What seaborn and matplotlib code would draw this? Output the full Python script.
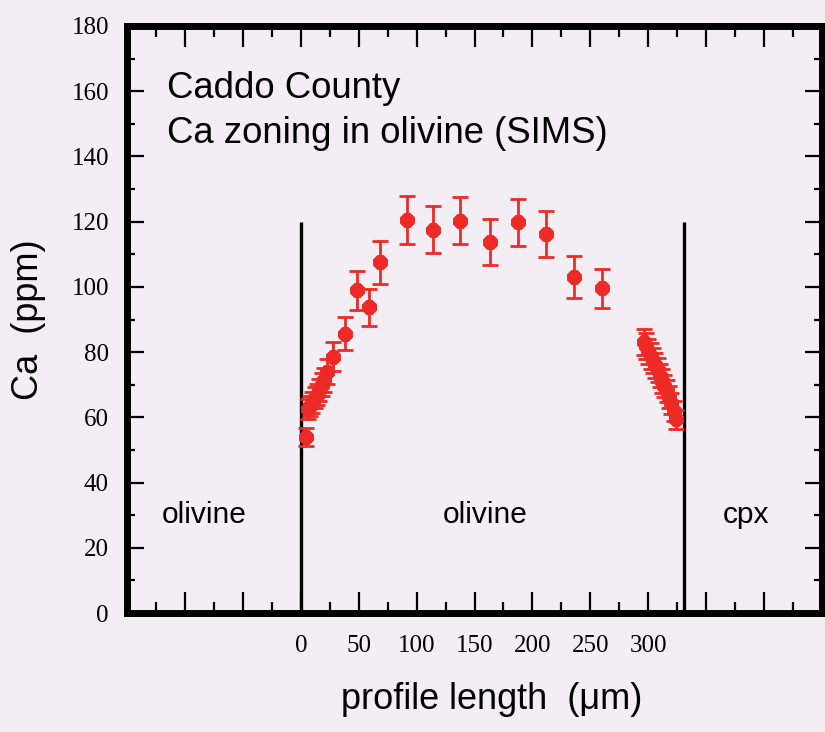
import numpy as np
import pandas as pd
import matplotlib
matplotlib.use("Agg")
import matplotlib.pyplot as plt
from matplotlib.ticker import MultipleLocator
import seaborn as sns

# Ca concentration profile across the olivine grain (SIMS spots)
profile_um = [4.8, 6, 8, 10, 12, 14, 16, 18, 20, 23, 27.5, 37.9, 48.6, 58.6, 68.1,
              91.8, 114.2, 137.8, 163.1, 187.3, 211.8, 236.3, 260.2,
              296, 298, 300, 302, 304, 306, 308, 310, 312, 314, 316, 318, 320, 322, 324]
ca_ppm = [53.9, 62.5, 63.5, 64.5, 66.0, 67.0, 68.5, 70.0, 71.5, 74.0, 78.6, 85.6, 98.9, 93.8, 107.5,
          120.6, 117.5, 120.3, 113.7, 119.8, 116.3, 103.0, 99.6,
          83.0, 81.8, 80.2, 78.8, 77.4, 75.9, 74.4, 72.8, 71.2, 69.6, 68.0, 66.2, 64.3, 62.0, 59.4]
ca_err = [2.8, 3.0, 3.0, 3.2, 3.2, 3.3, 3.4, 3.5, 3.6, 3.8, 4.5, 5.1, 6.0, 5.7, 6.6,
          7.3, 7.2, 7.3, 7.0, 7.2, 7.1, 6.4, 6.0,
          4.0, 4.0, 3.9, 3.9, 3.8, 3.8, 3.7, 3.6, 3.6, 3.5, 3.4, 3.3, 3.2, 3.1, 3.0]

# Grain boundaries (μm) and their drawn height (ppm)
boundary_um = [0, 331]
boundary_top = 120

# Phase names and where they sit along the profile
phase_names = ["olivine", "olivine", "cpx"]
phase_x = [-83, 159, 384]

x_tick_values = list(range(-150, 451, 50))
x_tick_labels = ["", "", "", "0", "50", "100", "150", "200", "250", "300", "", "", ""]
y_tick_values = list(range(0, 181, 20))
y_tick_labels = [str(v) for v in y_tick_values]

df = pd.DataFrame({"profile": profile_um, "ca": ca_ppm, "err": ca_err})

sns.set_theme(style="ticks")
plt.rcParams["font.family"] = ["Liberation Sans", "DejaVu Sans"]

bg = "#f3eef4"
red = "#ee2a27"

fig, ax = plt.subplots(figsize=(8.25, 7.32), dpi=100)
fig.patch.set_facecolor(bg)
ax.set_facecolor(bg)
fig.subplots_adjust(left=127 / 825, right=822 / 825, bottom=(732 - 613) / 732, top=(732 - 26) / 732)

# boundaries between phases
ax.vlines(boundary_um, 0, boundary_top, colors="black", linewidth=2.4, zorder=2)

ax.errorbar(df["profile"], df["ca"], yerr=df["err"], fmt="none", ecolor=red,
            elinewidth=2.0, capsize=5.5, capthick=2.0, zorder=3)
sns.scatterplot(data=df, x="profile", y="ca", marker="8", s=115, color=red,
                edgecolor=red, linewidth=0.8, ax=ax, zorder=4, legend=False)

ax.set_xlim(-150, 450)
ax.set_ylim(0, 180)

ax.set_xticks(x_tick_values)
ax.set_xticklabels(x_tick_labels)
ax.set_yticks(y_tick_values)
ax.set_yticklabels(y_tick_labels)
ax.xaxis.set_minor_locator(MultipleLocator(25))
ax.yaxis.set_minor_locator(MultipleLocator(10))

ax.tick_params(which="both", direction="in", top=True, right=True, color="black", width=1.6)
ax.tick_params(axis="x", which="major", length=15, pad=16)
ax.tick_params(axis="x", which="minor", length=8)
ax.tick_params(axis="y", which="major", length=12, pad=13)
ax.tick_params(axis="y", which="minor", length=6)
for lab in ax.get_xticklabels() + ax.get_yticklabels():
    lab.set_fontfamily("Liberation Serif")
    lab.set_fontsize(18)
    lab.set_color("black")

for side in ["left", "right", "top", "bottom"]:
    ax.spines[side].set_linewidth(5)
    ax.spines[side].set_color("black")

ax.set_xlabel("profile length  (μm)", fontsize=26, color="black")
ax.set_ylabel("Ca  (ppm)", fontsize=26, color="black")
ax.xaxis.set_label_coords(0.525, -0.117)
ax.yaxis.set_label_coords(-0.117, 0.5)

ax.text(-115.2, 158, "Caddo County", fontsize=26.3, color="black", va="baseline")
ax.text(-115.2, 144.2, "Ca zoning in olivine (SIMS)", fontsize=26.3, color="black", va="baseline")

for name, xpos in zip(phase_names, phase_x):
    ax.text(xpos, 27.6, name, fontsize=21.5, color="black", ha="center", va="baseline")

fig.savefig("out.png", dpi=100, facecolor=bg)
